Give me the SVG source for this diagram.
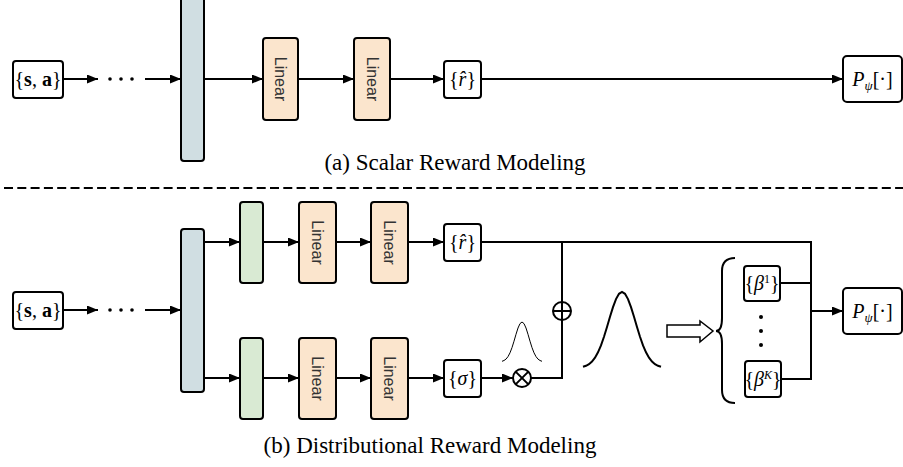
<svg xmlns="http://www.w3.org/2000/svg" width="903" height="467" viewBox="0 0 903 467">
<style>
.box{fill:#fff;stroke:#000;stroke-width:2}
.bar{fill:#d0dee2;stroke:#000;stroke-width:2}
.lin{fill:#fbe5cd;stroke:#000;stroke-width:2}
.grn{fill:#d9ead3;stroke:#000;stroke-width:2}
.ltxt{font-family:"Liberation Sans",Arial,sans-serif;font-size:16px;fill:#333;text-anchor:middle;dominant-baseline:central}
.m{font-family:"Liberation Serif","Times New Roman",serif;font-size:20px;fill:#000;text-anchor:middle}
.cap{font-family:"Liberation Serif","Times New Roman",serif;font-size:23px;fill:#000;text-anchor:middle}
.ln{fill:none;stroke:#000;stroke-width:2}
.arr{fill:none;stroke:#000;stroke-width:2;marker-end:url(#ah)}
.dot{fill:#000}
</style>
<defs>
<marker id="ah" markerUnits="userSpaceOnUse" markerWidth="12" markerHeight="9" refX="11" refY="4.5" orient="auto">
<path d="M0,0 L11,4.5 L0,9 z" fill="#000"/>
</marker>
</defs>
<rect width="903" height="467" fill="#fff"/>

<!-- Top (a) -->
<g id="a_input"><rect class="box" x="13" y="61" width="50" height="37" rx="3"/><text class="m" x="38" y="85.5">{<tspan font-weight="bold">s</tspan>, <tspan font-weight="bold">a</tspan>}</text></g>
<g id="a_backbone"><rect class="bar" x="181" y="-6" width="23" height="167" rx="3"/></g>
<g id="a_linear1"><rect class="lin" x="263" y="38" width="35" height="82" rx="3"/><text class="ltxt" transform="translate(280.5,79) rotate(90)">Linear</text></g>
<g id="a_linear2"><rect class="lin" x="354" y="38" width="36" height="82" rx="3"/><text class="ltxt" transform="translate(372,79) rotate(90)">Linear</text></g>
<g id="a_r"><rect class="box" x="444" y="61" width="37" height="37" rx="3"/><text class="m" x="462.5" y="85.5">{<tspan font-style="italic">r̂</tspan>}</text></g>
<g id="a_P"><rect class="box" x="843" y="56" width="59" height="46" rx="4"/><text class="m" x="872.5" y="85.5"><tspan font-style="italic">P</tspan><tspan font-style="italic" font-size="13" dy="4">ψ</tspan><tspan dy="-4">[·]</tspan></text></g>
<g id="a_caption"><text class="cap" x="455" y="170">(a) Scalar Reward Modeling</text></g>

<g id="a_connectors">
<path class="arr" d="M63,79 H98"/>
<circle class="dot" cx="110" cy="79" r="1.8"/><circle class="dot" cx="121" cy="79" r="1.8"/><circle class="dot" cx="132" cy="79" r="1.8"/>
<path class="arr" d="M145,79 H181"/>
<path class="arr" d="M204,79 H263"/>
<path class="arr" d="M298,79 H354"/>
<path class="arr" d="M390,79 H444"/>
<path class="arr" d="M481,79 H843"/>
</g>

<line x1="4" y1="188" x2="903" y2="188" stroke="#000" stroke-width="2" stroke-dasharray="9,4.3"/>

<!-- Bottom (b) -->
<g id="b_input"><rect class="box" x="13" y="292" width="50" height="37" rx="3"/><text class="m" x="38" y="316.5">{<tspan font-weight="bold">s</tspan>, <tspan font-weight="bold">a</tspan>}</text></g>
<g id="b_backbone"><rect class="bar" x="181" y="229" width="23" height="163" rx="3"/></g>
<g id="b_green1"><rect class="grn" x="240" y="202" width="23" height="81" rx="3"/></g>
<g id="b_green2"><rect class="grn" x="240" y="338" width="23" height="81" rx="3"/></g>
<g id="b_linear1"><rect class="lin" x="299" y="202" width="37" height="81" rx="3"/><text class="ltxt" transform="translate(317.5,242.5) rotate(90)">Linear</text></g>
<g id="b_linear2"><rect class="lin" x="371" y="202" width="37" height="81" rx="3"/><text class="ltxt" transform="translate(389.5,242.5) rotate(90)">Linear</text></g>
<g id="b_linear3"><rect class="lin" x="299" y="338" width="37" height="81" rx="3"/><text class="ltxt" transform="translate(317.5,378.5) rotate(90)">Linear</text></g>
<g id="b_linear4"><rect class="lin" x="371" y="338" width="37" height="81" rx="3"/><text class="ltxt" transform="translate(389.5,378.5) rotate(90)">Linear</text></g>
<g id="b_r"><rect class="box" x="444" y="224" width="37" height="37" rx="3"/><text class="m" x="462.5" y="248.5">{<tspan font-style="italic">r̂</tspan>}</text></g>
<g id="b_sigma"><rect class="box" x="444" y="360" width="37" height="37" rx="3"/><text class="m" x="462.5" y="384.5">{<tspan font-style="italic">σ</tspan>}</text></g>
<g id="b_times"><circle cx="522" cy="378" r="9" fill="#fff" stroke="#000" stroke-width="2"/><path class="ln" d="M515.6,371.6 L528.4,384.4 M528.4,371.6 L515.6,384.4"/></g>
<g id="b_plus"><circle cx="562" cy="311" r="9" fill="#fff" stroke="#000" stroke-width="2"/><path class="ln" d="M553,311 H571 M562,302 V320"/></g>
<g id="b_gauss_small"><polyline fill="none" stroke="#000" stroke-width="1" points="502,361.3 504,360.5 506,359.1 508,356.6 510,352.8 512,347.6 514,341.2 516,334.3 518,328 520,323.6 522,322 524,323.6 526,328 528,334.3 530,341.2 532,347.6 534,352.8 536,356.6 538,359.1 540,360.5 542,361.3"/></g>
<g id="b_gauss_large"><polyline fill="none" stroke="#000" stroke-width="2" points="583,366.8 586,365.8 589,364.2 592,361.5 595,357.7 598,352.3 601,345.4 604,336.8 607,327 610,316.8 613,307.1 616,299.1 619,293.8 622,292 625,293.8 628,299.1 631,307.1 634,316.8 637,327 640,336.8 643,345.4 646,352.3 649,357.7 652,361.5 655,364.2 658,365.8 661,366.8"/></g>
<g id="b_hollow_arrow"><polygon points="667,325 700,325 700,321 713,331 700,342 700,337 667,337" fill="#fff" stroke="#000" stroke-width="1.5"/></g>
<g id="b_brace"><path class="ln" d="M735,258 Q722,258 722,271 V318 Q722,331 716,331 Q722,331 722,344 V390 Q722,403 735,403"/></g>
<g id="b_beta1"><rect class="box" x="744" y="266" width="36" height="35" rx="3"/><text class="m" x="762" y="290">{<tspan font-style="italic">β</tspan><tspan font-size="12" dy="-7">1</tspan><tspan dy="7">}</tspan></text></g>
<g id="b_dots"><circle class="dot" cx="761" cy="317" r="2"/><circle class="dot" cx="761" cy="331" r="2"/><circle class="dot" cx="761" cy="345" r="2"/></g>
<g id="b_betaK"><rect class="box" x="745" y="361" width="36" height="36" rx="3"/><text class="m" x="763" y="385.5">{<tspan font-style="italic">β</tspan><tspan font-style="italic" font-size="12" dy="-7">K</tspan><tspan dy="7">}</tspan></text></g>
<g id="b_P"><rect class="box" x="843" y="288" width="59" height="46" rx="4"/><text class="m" x="872.5" y="317.5"><tspan font-style="italic">P</tspan><tspan font-style="italic" font-size="13" dy="4">ψ</tspan><tspan dy="-4">[·]</tspan></text></g>
<g id="b_caption"><text class="cap" x="430" y="453">(b) Distributional Reward Modeling</text></g>

<g id="b_connectors">
<path class="arr" d="M63,310 H98"/>
<circle class="dot" cx="110" cy="310" r="1.8"/><circle class="dot" cx="121" cy="310" r="1.8"/><circle class="dot" cx="132" cy="310" r="1.8"/>
<path class="arr" d="M145,310 H181"/>
<path class="arr" d="M204,242 H240"/>
<path class="arr" d="M204,378 H240"/>
<path class="arr" d="M263,242 H299"/>
<path class="arr" d="M336,242 H371"/>
<path class="arr" d="M408,242 H444"/>
<path class="arr" d="M263,378 H299"/>
<path class="arr" d="M336,378 H371"/>
<path class="arr" d="M408,378 H444"/>
<path class="arr" d="M481,378 H513"/>
<path class="ln" d="M531,378 H562 V320"/>
<path class="ln" d="M562,302 V242"/>
<path class="ln" d="M481,242 H811 V379 H781"/>
<path class="ln" d="M780,283 H811"/>
<path class="arr" d="M811,311 H843"/>
</g>
</svg>
